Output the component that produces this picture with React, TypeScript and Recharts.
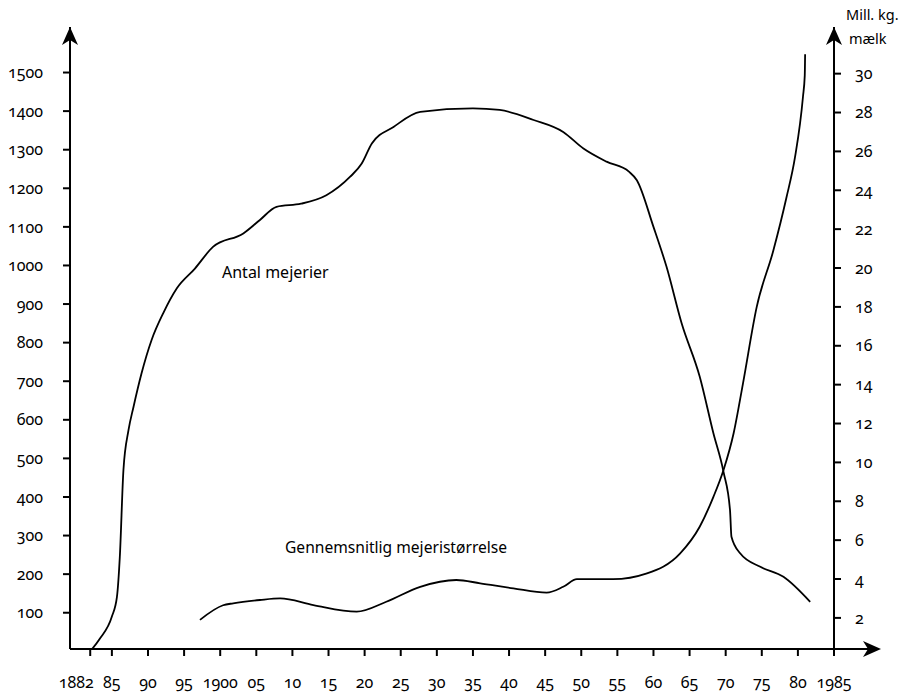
import React from 'react';
import { ComposedChart, Line, XAxis, YAxis } from 'recharts';

// Antal mejerier (left axis)
const dairyYears = [
  1882, 1883.3, 1885, 1885.7, 1886.1, 1886.6, 1887.3, 1888, 1889.1, 1890.5,
  1892.1, 1894, 1896.5, 1899, 1903.2, 1905.5, 1907.8, 1911.2, 1914.7, 1918,
  1919.6, 1921, 1924, 1927.7, 1935, 1938.7, 1943.4, 1947.5, 1950.3, 1953.5,
  1956.6, 1957.7, 1960, 1961.8, 1963.9, 1966.4, 1968.3, 1969.7, 1970.6, 1970.8,
  1972, 1974.8, 1978, 1981.7,
];
const dairyCounts = [
  0, 32, 90, 141, 245, 470, 573, 634, 720, 807,
  876, 941, 992, 1048, 1083, 1118, 1152, 1160, 1182, 1230,
  1264, 1316, 1359, 1398, 1407, 1403, 1377, 1346, 1303, 1269,
  1243, 1221, 1100, 997, 850, 712, 565, 465, 366, 297,
  254, 219, 193, 128,
];

// Gennemsnitlig mejeristørrelse, mill. kg mælk (right axis)
const sizeYears = [
  1897.2, 1900.4, 1901.8, 1905.5, 1908.3, 1912.9, 1918.9, 1923, 1927.7, 1932.7,
  1936, 1940.6, 1945.2, 1947.5, 1949.4, 1954.4, 1959.1, 1963.7, 1966.4, 1968.3,
  1969.7, 1971.1, 1972.4, 1974.3, 1976.6, 1978.4, 1979.6, 1980.7, 1980.95,
  1981,
];
const sizeValues = [
  1.9, 2.65, 2.75, 2.92, 3.0, 2.66, 2.32, 2.83, 3.6, 3.95,
  3.78, 3.52, 3.3, 3.6, 3.99, 3.99, 4.29, 5.32, 6.69, 8.23,
  9.61, 11.5, 14.07, 18.0, 20.9, 23.6, 25.7, 28.8, 29.9,
  31.0,
];

const xTicks = [
  1882, 1885, 1890, 1895, 1900, 1905, 1910, 1915, 1920, 1925, 1930,
  1935, 1940, 1945, 1950, 1955, 1960, 1965, 1970, 1975, 1980, 1985,
];
const xTickLabels = [
  '1882', '85', '90', '95', '1900', '05', '10', '15', '20', '25', '30',
  '35', '40', '45', '50', '55', '60', '65', '70', '75', '80', '1985',
];
const leftTicks = [100, 200, 300, 400, 500, 600, 700, 800, 900, 1000, 1100, 1200, 1300, 1400, 1500];
const rightTicks = [2, 4, 6, 8, 10, 12, 14, 16, 18, 20, 22, 24, 26, 28, 30];

const dairyData = dairyYears.map((year, i) => ({ year, count: dairyCounts[i] }));
const sizeData = sizeYears.map((year, i) => ({ year, size: sizeValues[i] }));

const W = 918;
const H = 697;
const margin = { top: 27, right: 24, bottom: 8, left: 10 };
const AXIS_W = 60;
const XAXIS_H = 40;
const plotLeft = margin.left + AXIS_W;
const plotRight = W - margin.right - AXIS_W;
const plotTop = margin.top;
const plotBottom = H - margin.bottom - XAXIS_H;

const axisStyle = { stroke: '#000', strokeWidth: 2 };
const TICK_FONT = 16;

const YearTick = (props: any) => {
  const { x, y, payload } = props;
  const i = xTicks.indexOf(payload.value);
  const label = i >= 0 ? xTickLabels[i] : String(payload.value);
  // the first label sits a little left of its tick in the original
  const dx = i === 0 ? -14 : 0;
  return (
    <text x={x + dx} y={y} dy="0.62em" textAnchor="middle" fill="#000" fontSize={TICK_FONT}>
      {label}
    </text>
  );
};

const arrowUp = (x: number, y: number) =>
  `${x},${y} ${x - 8},${y + 18} ${x},${y + 13} ${x + 8},${y + 18}`;
const arrowRight = (x: number, y: number) =>
  `${x},${y} ${x - 18},${y - 8} ${x - 13},${y} ${x - 18},${y + 8}`;

export default function App() {
  return (
    <div
      style={{
        position: 'absolute',
        left: 0,
        top: 0,
        width: W,
        height: H,
        background: '#fff',
        fontFamily: '"Noto Sans", "Open Sans", sans-serif',
        fontVariantNumeric: 'oldstyle-nums',
      }}
    >
      <ComposedChart width={W} height={H} margin={margin}>
        <XAxis
          dataKey="year"
          type="number"
          domain={[1879.2, 1985]}
          allowDataOverflow
          ticks={xTicks}
          interval={0}
          height={XAXIS_H}
          tickSize={7}
          tickMargin={22}
          axisLine={axisStyle}
          tickLine={axisStyle}
          tick={<YearTick />}
        />
        <YAxis
          yAxisId="left"
          type="number"
          domain={[6, 1618]}
          allowDataOverflow
          ticks={leftTicks}
          interval={0}
          width={AXIS_W}
          tickSize={7}
          tickMargin={20}
          axisLine={axisStyle}
          tickLine={axisStyle}
          tick={{ fill: '#000', fontSize: TICK_FONT }}
        />
        <YAxis
          yAxisId="right"
          orientation="right"
          type="number"
          domain={[0.4, 32.4]}
          allowDataOverflow
          ticks={rightTicks}
          interval={0}
          width={AXIS_W}
          tickSize={7}
          tickMargin={14}
          axisLine={axisStyle}
          tickLine={axisStyle}
          tick={{ fill: '#000', fontSize: TICK_FONT, textAnchor: 'start' }}
        />
        <Line
          yAxisId="left"
          data={dairyData}
          dataKey="count"
          type="monotone"
          stroke="#000"
          strokeWidth={1.8}
          dot={false}
          isAnimationActive={false}
        />
        <Line
          yAxisId="right"
          data={sizeData}
          dataKey="size"
          type="monotone"
          stroke="#000"
          strokeWidth={1.8}
          dot={false}
          isAnimationActive={false}
        />
      </ComposedChart>

      <svg
        width={W}
        height={H}
        style={{ position: 'absolute', left: 0, top: 0, pointerEvents: 'none' }}
      >
        <line x1={plotRight} y1={plotBottom} x2={878} y2={plotBottom} stroke="#000" strokeWidth={2} />
        <polygon points={arrowUp(plotLeft, plotTop)} fill="#000" />
        <polygon points={arrowUp(plotRight, plotTop)} fill="#000" />
        <polygon points={arrowRight(881, plotBottom)} fill="#000" />
        <g fill="#000" fontSize={15.6}>
          <text x={222} y={278} fontSize={16}>Antal mejerier</text>
          <text x={285} y={553}>Gennemsnitlig mejeristørrelse</text>
          <text x={846} y={20} fontSize={14.5}>Mill. kg.</text>
          <text x={849} y={44} fontSize={14.5}>mælk</text>
        </g>
      </svg>
    </div>
  );
}
